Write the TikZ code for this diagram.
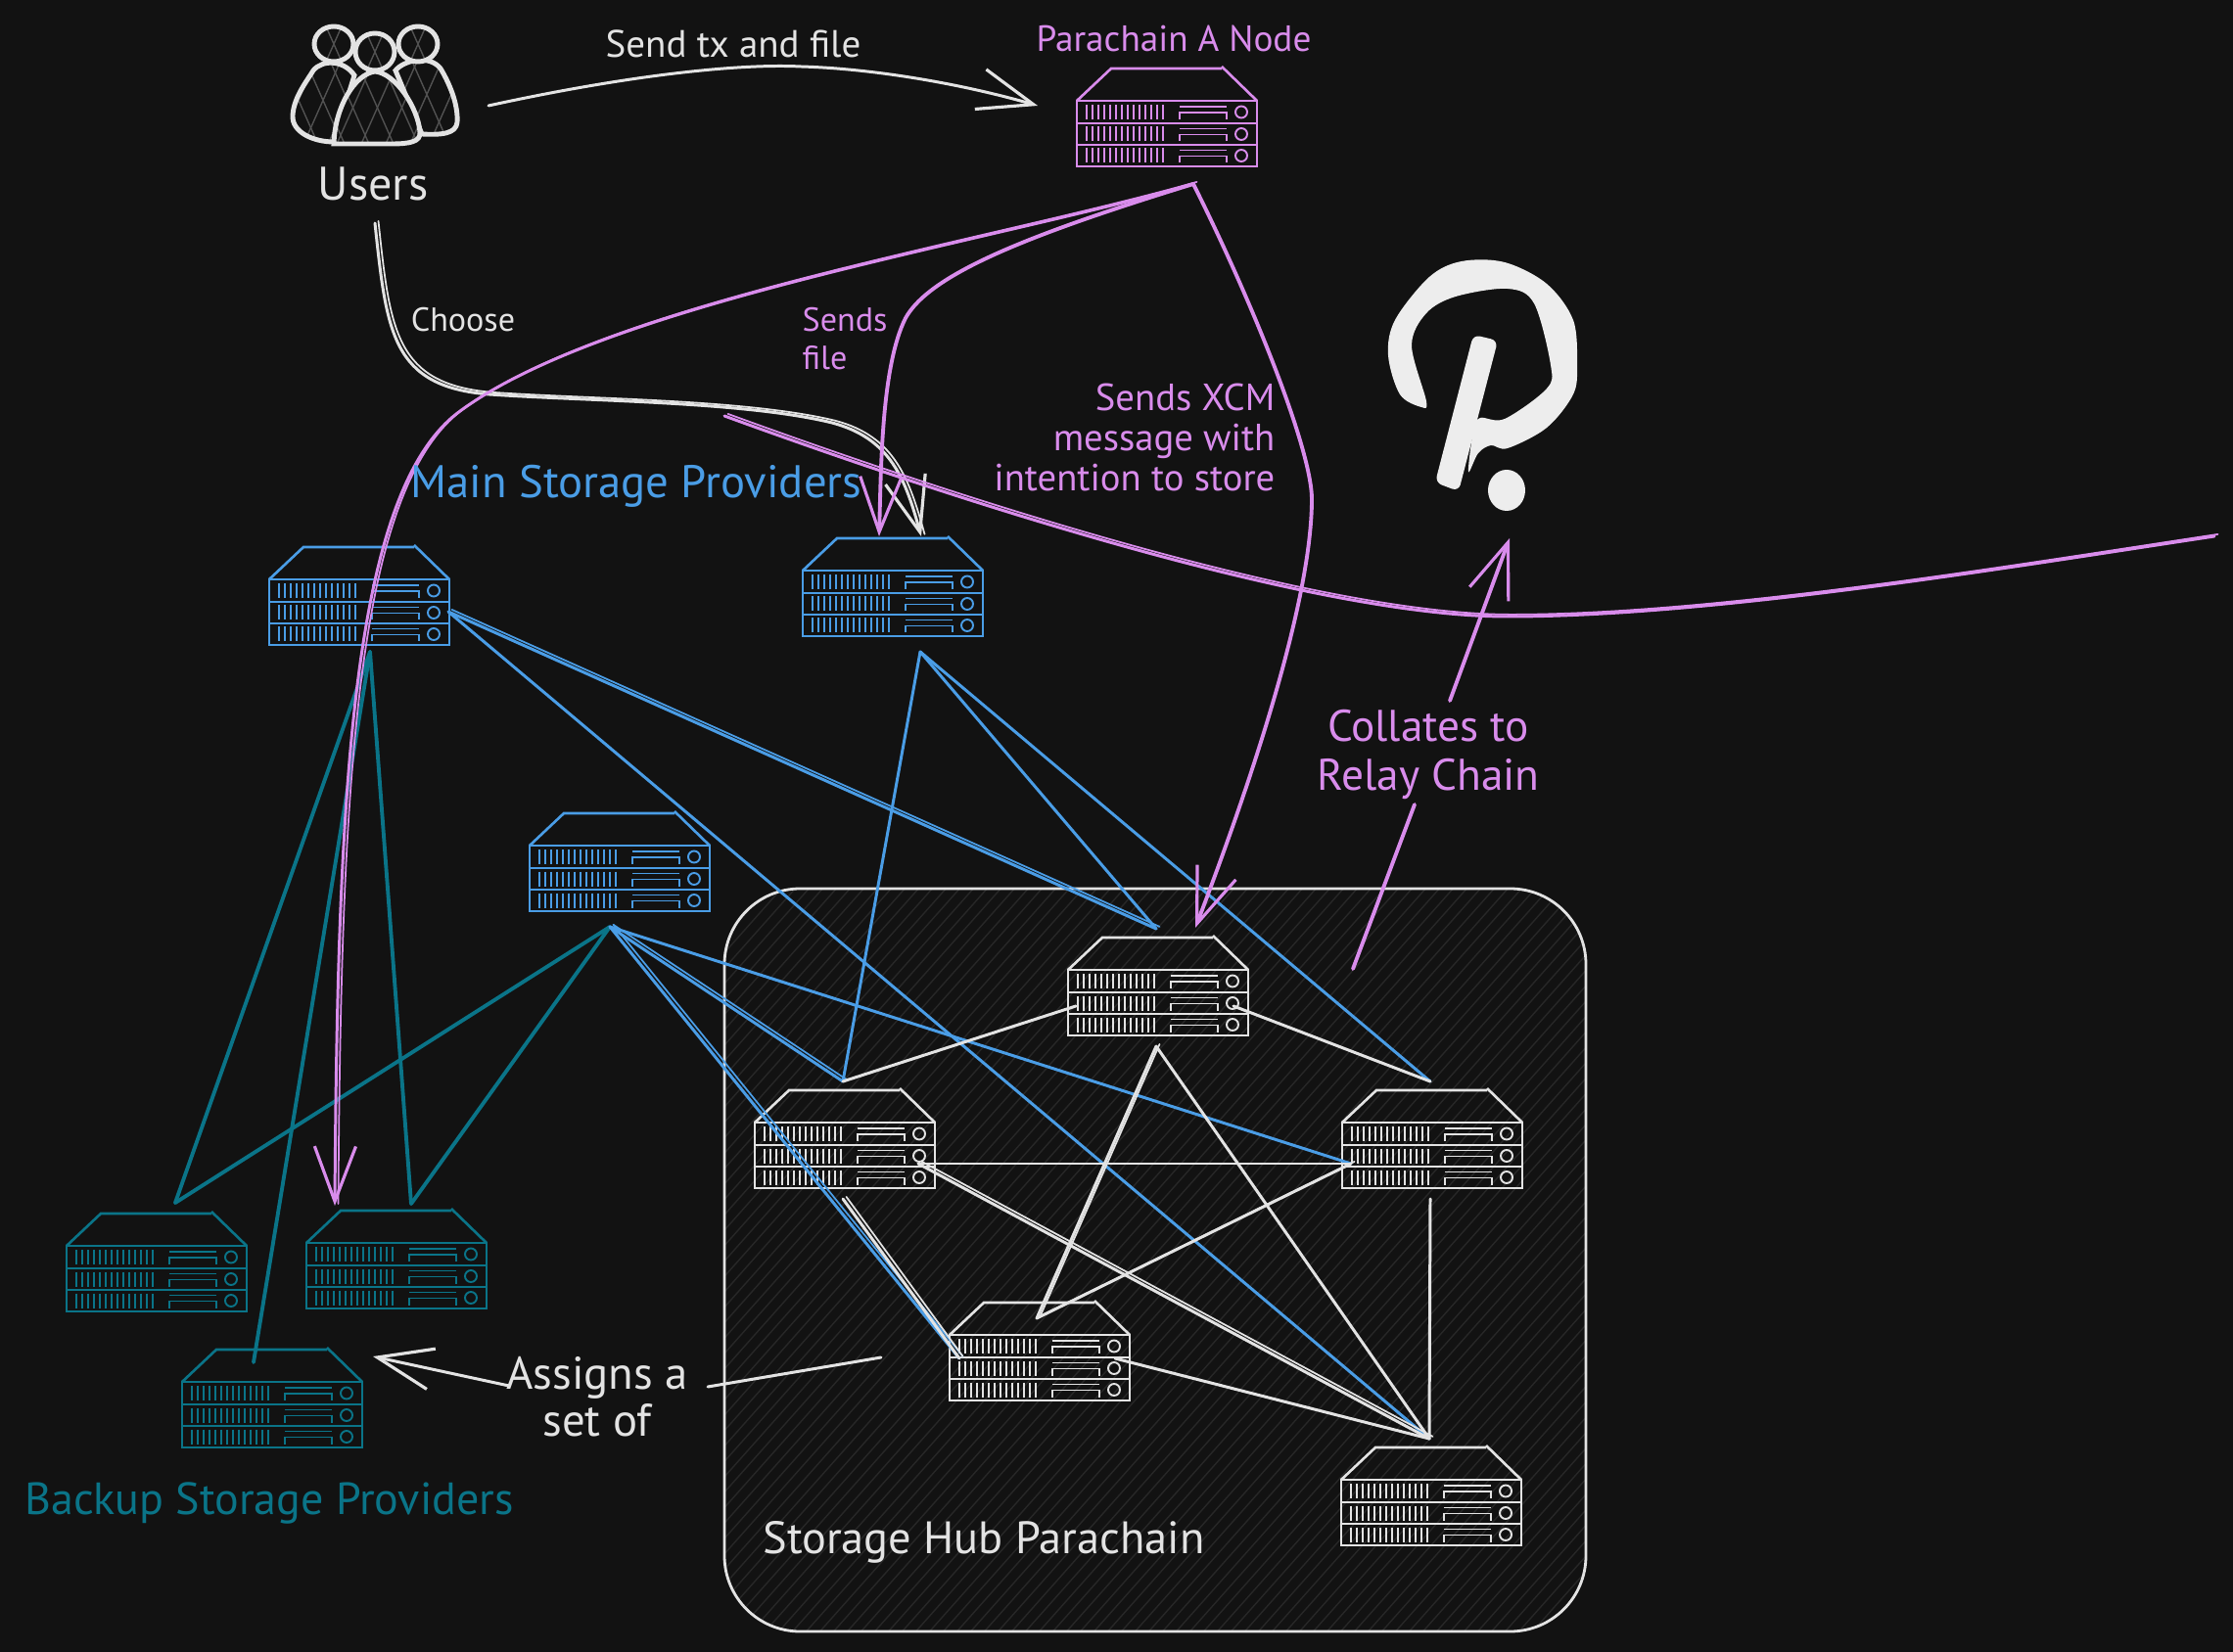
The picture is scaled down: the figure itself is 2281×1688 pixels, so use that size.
\documentclass[tikz,border=0pt]{standalone}
\usepackage{fontspec}
\setmainfont{PT Sans}
\usetikzlibrary{arrows.meta,calc}
\definecolor{bgdark}{HTML}{121212}
\definecolor{hubwhite}{HTML}{E3E3E3}
\definecolor{nodepurple}{HTML}{D98CEC}
\definecolor{mainblue}{HTML}{4A9DE6}
\definecolor{backupteal}{HTML}{0A7488}
\definecolor{markwhite}{HTML}{EDEDED}
\tikzset{
    link/.style={line width=.85pt,line cap=round},
    wire/.style={link,hubwhite},
    strong/.style={link,line width=1.1pt,#1},
    twin/.style={postaction={draw,-,line width=.5pt,transform canvas={xshift=1pt,yshift=.6pt}}},
    tip/.style={-{Straight Barb[length=16pt,width=12pt,line width=.9pt]}},
    label/.style args={#1/#2}{font=\fontsize{#1}{#2}\selectfont,align=center,inner sep=0pt},
    usershape/.style={fill=bgdark,path picture={
        \foreach \h in {-100,-75,...,100} {
            \draw[hubwhite!30!bgdark,line width=.4pt] ($(path picture bounding box.center)+(\h-40,-90)$) -- ++(80,180);
            \draw[hubwhite!30!bgdark,line width=.4pt] ($(path picture bounding box.center)+(\h+40,-90)$) -- ++(-80,180);
        }
    }},
    pics/server/.style={code={
        \draw[#1,line width=.75pt] (0,0) -- (35,-33) -- (148,-33);
        \draw[#1,line width=.75pt] (148,-35) -- (184,0);
        \draw[#1,line width=.75pt] (0,0) rectangle (184,67);
        \draw[#1,line width=.75pt] (0,23) -- (184,23) (0,45) -- (184,45);
        \foreach \r in {0,22.5,44.5} {
            \foreach \v in {10,16,...,88}
                \draw[#1,line width=.5pt] (\v,\r+4) -- (\v,\r+19);
            \draw[#1,line width=.55pt] (105,\r+6) -- (153,\r+6);
            \draw[#1,line width=.55pt] (105,\r+19) -- (105,\r+12) -- (153,\r+12) -- (153,\r+19);
            \draw[#1,line width=.55pt] (168,\r+11.5) circle (6);
        }
        \coordinate (-n) at (90,-42);
        \coordinate (-s) at (90,78);
        \coordinate (-w) at (9,42);
        \coordinate (-e) at (167,42);
    }},
}
\begin{document}
\begin{tikzpicture}[x=0.1mm,y=-0.1mm]
    \useasboundingbox[fill=bgdark] (0,0) rectangle (2281,1688);
    % hub box
    \begin{scope}
        \clip[rounded corners=22pt] (740,908) rectangle (1620,1667);
        \foreach \h in {0,14,...,1690}
            \draw[hubwhite!10!bgdark,line width=.4pt] (\h,1680) -- (\h+800,780);
    \end{scope}
    \draw[hubwhite,line width=.8pt,rounded corners=22pt] (740,908) rectangle (1620,1667);
    % servers
    \pic (paraA) at (1100,103) {server=nodepurple};
    \pic (mainOne) at (275,592) {server=mainblue};
    \pic (mainTwo) at (820,583) {server=mainblue};
    \pic (mainThree) at (541,864) {server=mainblue};
    \pic (backOne) at (68,1273) {server=backupteal};
    \pic (backTwo) at (313,1270) {server=backupteal};
    \pic (backThree) at (186,1412) {server=backupteal};
    \pic (hubTop) at (1091,991) {server=hubwhite};
    \pic (hubLeft) at (771,1147) {server=hubwhite};
    \pic (hubRight) at (1371,1147) {server=hubwhite};
    \pic (hubMid) at (970,1364) {server=hubwhite};
    \pic (hubEnd) at (1370,1512) {server=hubwhite};
    % free ends
    \coordinate (usersOut) at (499,108);
    \coordinate (paraIn) at (1060,108);
    \coordinate (paraOut) at (1219,188);
    \coordinate (oneOut) at (458,625);
    \coordinate (oneDown) at (378,666);
    \coordinate (twoOut) at (940,666);
    \coordinate (threeOut) at (623,947);
    \coordinate (midIn) at (980,1388);
    \coordinate (midTop) at (1059,1347);
    \coordinate (topW) at (1099,1028);
    \coordinate (topE) at (1260,1028);
    \coordinate (midE) at (1139,1388);
    \coordinate (tealOne) at (179,1229);
    \coordinate (tealTwo) at (420,1230);
    \coordinate (tealThree) at (259,1392);
    % teal links
    \foreach \e in {tealOne,tealTwo,tealThree}
        \draw[strong=backupteal] (oneDown) -- (\e);
    \foreach \e in {tealOne,tealTwo}
        \draw[strong=backupteal] (threeOut) -- (\e);
    % blue links
    \foreach \a/\b in {oneOut/hubEnd-n,twoOut/hubLeft-n,twoOut/hubTop-n,twoOut/hubRight-n,threeOut/hubRight-w}
        \draw[link,mainblue] (\a) -- (\b);
    \foreach \a/\b in {oneOut/hubTop-n,threeOut/hubLeft-n,threeOut/midIn}
        \draw[link,mainblue,twin] (\a) -- (\b);
    % white links of the hub
    \foreach \a/\b in {topW/hubLeft-n,topE/hubRight-n,hubLeft-e/hubRight-w,hubTop-s/hubEnd-n,midE/hubEnd-n,hubRight-s/hubEnd-n}
        \draw[wire] (\a) -- (\b);
    \foreach \a/\b in {hubLeft-e/hubEnd-n,hubLeft-s/midIn,hubTop-s/midTop,hubRight-w/midTop}
        \draw[wire,twin] (\a) -- (\b);
    % users
    \begin{scope}[hubwhite,line width=1.4pt]
        \draw[usershape] (404,72) .. controls (412,62) and (438,55) .. (450,70) .. controls (462,90) and (468,110) .. (467,125) .. controls (466,137) and (450,138) .. (431,137) -- cycle;
        \draw[usershape] (320,72) .. controls (330,60) and (352,62) .. (362,77) -- (341,145) .. controls (320,145) and (298,135) .. (299,118) .. controls (300,100) and (312,85) .. (320,72);
        \draw[usershape] (383,73) .. controls (362,76) and (342,110) .. (341,147) -- (400,147) .. controls (418,147) and (430,145) .. (429,135) .. controls (427,110) and (404,75) .. (383,73);
        \draw[usershape] (341,45) ellipse (20 and 18);
        \draw[usershape] (427,45) ellipse (20 and 18);
        \draw[usershape] (383,53) ellipse (20 and 19);
    \end{scope}
    \node[label=13.7/15,hubwhite] (usersText) at (381,188) {Users};
    % polkadot mark
    \fill[markwhite] plot[smooth cycle,tension=.55] coordinates {(1452,416) (1430,403) (1418,363) (1425,327) (1460,283) (1493,267) (1537,268) (1580,290) (1607,327) (1611,373) (1607,403) (1580,437) (1540,458) (1523,455) (1510,463) (1500,482) (1505,440) (1512,427) (1537,428) (1580,397) (1584,373) (1567,310) (1540,295) (1487,303) (1457,320) (1442,353) (1457,410)};
    \fill[markwhite,rounded corners=2pt] (1505,342) -- (1530,348) -- (1490,502) -- (1466,493) -- cycle;
    \fill[markwhite] (1539,501) ellipse (19 and 21);
    % arrows
    \coordinate (chooseOut) at (383,228);
    \coordinate (twoIn) at (941,548);
    \draw[wire,tip] (usersOut) .. controls (650,75) and (760,65) .. (818,68) .. controls (890,70) and (980,85) .. (paraIn);
    \draw[wire,tip,twin] (chooseOut) .. controls (395,340) and (400,395) .. (500,403) .. controls (600,410) and (760,410) .. (850,432) .. controls (910,448) and (925,490) .. (twoIn);
    \draw[link,nodepurple,tip,twin] (paraOut) .. controls (1000,250) and (620,310) .. (470,420) .. controls (360,500) and (345,800) .. (342,1232);
    \draw[strong=nodepurple,tip] (paraOut) .. controls (1050,240) and (950,280) .. (925,325) .. controls (900,375) and (900,480) .. (898,548);
    \draw[strong=nodepurple,tip] (paraOut) .. controls (1280,310) and (1340,460) .. (1340,510) .. controls (1340,620) and (1270,820) .. (1221,948);
    \coordinate (lineStart) at (740,425);
    \coordinate (lineEnd) at (2262,548);
    \draw[link,nodepurple,twin] (lineStart) .. controls (1000,520) and (1350,630) .. (1540,630) .. controls (1750,630) and (2050,580) .. (lineEnd);
    % collates
    \coordinate (collateOut) at (1382,990);
    \coordinate (collateUp) at (1481,716);
    \coordinate (collateTip) at (1542,550);
    \node[label=12.9/14.5,nodepurple] (collateText) at (1459,771) {Collates to\\Relay Chain};
    \draw[strong=nodepurple] (collateOut) -- (1445,822);
    \draw[strong=nodepurple,tip] (collateUp) -- (collateTip);
    % assigns
    \coordinate (assignEnd) at (381,1386);
    \coordinate (assignOut) at (520,1416);
    \coordinate (assignIn) at (723,1417);
    \coordinate (assignFar) at (900,1387);
    \node[label=13.3/13.6,hubwhite] (assignText) at (610,1427) {Assigns a\\set of};
    \draw[wire,tip] (assignOut) -- (assignEnd);
    \draw[wire] (assignIn) -- (assignFar);
    % labels
    \node[label=11.1/13,hubwhite] (sendText) at (749,45) {Send tx and file};
    \node[label=10.6/13,nodepurple] (paraText) at (1199,39) {Parachain A Node};
    \node[label=9.7/11,hubwhite] (chooseText) at (473,327) {Choose};
    \node[label=9.7/11,nodepurple,align=left,anchor=west] (filesText) at (819,346) {Sends\\file};
    \node[label=11/11.6,nodepurple,align=right,anchor=east] (xcmText) at (1303,447) {Sends XCM\\message with\\intention to store};
    \node[label=13.3/15,mainblue] (mainText) at (650,497) {Main Storage Providers};
    \node[label=13.1/15,backupteal] (backText) at (275,1536) {Backup Storage Providers};
    \node[label=13.2/15,hubwhite] (hubText) at (1005,1576) {Storage Hub Parachain};
\end{tikzpicture}
\end{document}
